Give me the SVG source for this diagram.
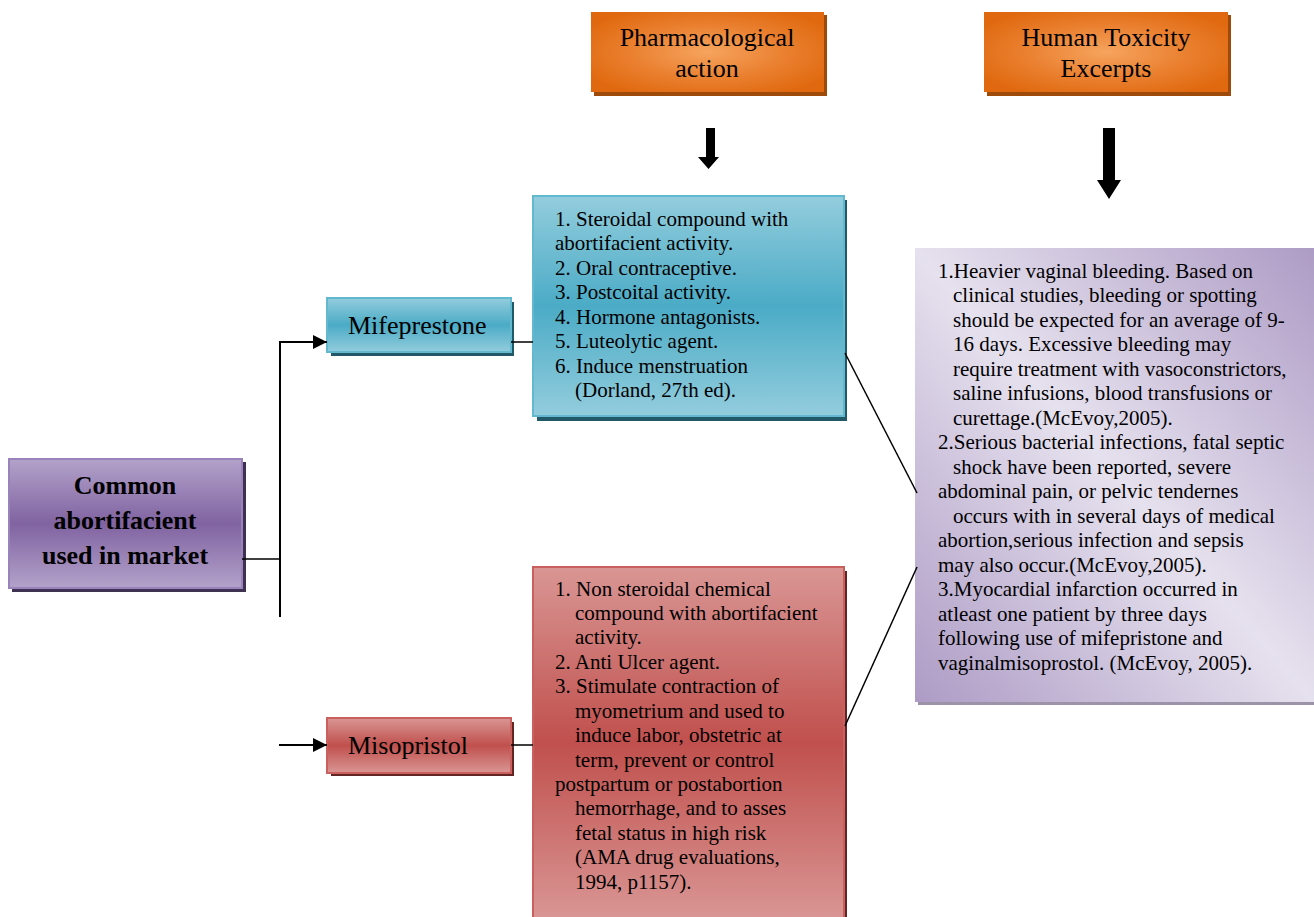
<svg xmlns="http://www.w3.org/2000/svg" width="1314" height="917" viewBox="0 0 1314 917">
<defs>
<radialGradient id="gOrange" cx="0.5" cy="0.5" r="0.6">
<stop offset="0" stop-color="#f6a45e"/>
<stop offset="0.55" stop-color="#ea8030"/>
<stop offset="1" stop-color="#e0690f"/>
</radialGradient>
<linearGradient id="gPurple" x1="0" y1="0" x2="0" y2="1">
<stop offset="0" stop-color="#b3a2ca"/>
<stop offset="0.5" stop-color="#8063a1"/>
<stop offset="1" stop-color="#b3a2ca"/>
</linearGradient>
<linearGradient id="gBlue" x1="0" y1="0" x2="0" y2="1">
<stop offset="0" stop-color="#93cddd"/>
<stop offset="0.5" stop-color="#4babc6"/>
<stop offset="1" stop-color="#93cddd"/>
</linearGradient>
<linearGradient id="gRed" x1="0" y1="0" x2="0" y2="1">
<stop offset="0" stop-color="#d99694"/>
<stop offset="0.5" stop-color="#c0504d"/>
<stop offset="1" stop-color="#d99694"/>
</linearGradient>
<linearGradient id="gLav" x1="1" y1="0" x2="0" y2="1">
<stop offset="0" stop-color="#ad9bc5"/>
<stop offset="0.5" stop-color="#e6e1ee"/>
<stop offset="1" stop-color="#ad9bc5"/>
</linearGradient>
<marker id="ah" viewBox="0 0 14 14" refX="14" refY="7" markerWidth="14" markerHeight="14" markerUnits="userSpaceOnUse" orient="auto">
<path d="M0,0 L14,7 L0,14 Z" fill="#000"/>
</marker>
<style>
text{font-family:"Liberation Serif","Times New Roman",serif;fill:#000}
.hdr{font-size:26px;text-anchor:middle}
.lbl{font-size:26px}
.big{font-size:26px;font-weight:bold;text-anchor:middle}
.lst{font-size:21px}
.ln{stroke:#000;fill:none}
</style>
</defs>

<g id="pharmacological-action">
<rect x="594" y="15" width="233" height="81" fill="#9e4a0a"/>
<rect x="591" y="12" width="233" height="80" fill="url(#gOrange)"/>
<text class="hdr" x="707" y="46">Pharmacological</text>
<text class="hdr" x="707" y="77">action</text>
</g>

<g id="human-toxicity">
<rect x="987" y="15" width="244" height="81" fill="#9e4a0a"/>
<rect x="984" y="12" width="244" height="80" fill="url(#gOrange)"/>
<text class="hdr" x="1106" y="46">Human Toxicity</text>
<text class="hdr" x="1106" y="77">Excerpts</text>
</g>

<g id="common-abortifacient">
<rect x="12" y="462" width="234" height="130" fill="#3f3151"/>
<rect x="9" y="459" width="233" height="129" fill="url(#gPurple)" stroke="#9a82bb" stroke-width="2"/>
<text class="big" x="125" y="494">Common</text>
<text class="big" x="125" y="529">abortifacient</text>
<text class="big" x="125" y="564">used in market</text>
</g>

<g id="mifepristone">
<rect x="331" y="302" width="183" height="54" fill="#215968"/>
<rect x="327" y="298" width="184" height="54" fill="url(#gBlue)" stroke="#62b8ce" stroke-width="2"/>
<text class="lbl" x="348" y="334">Mifeprestone</text>
</g>

<g id="misoprostol">
<rect x="331" y="722" width="183" height="54" fill="#632523"/>
<rect x="327" y="718" width="184" height="55" fill="url(#gRed)" stroke="#c9605d" stroke-width="2"/>
<text class="lbl" x="348" y="754">Misopristol</text>
</g>

<g id="mifepristone-actions">
<rect x="537" y="200" width="310" height="221" fill="#215968"/>
<rect x="533" y="196" width="311" height="220" fill="url(#gBlue)" stroke="#62b8ce" stroke-width="2"/>
<text class="lst" x="555" y="226">1. Steroidal compound with</text>
<text class="lst" x="555" y="250">abortifacient activity.</text>
<text class="lst" x="555" y="275">2. Oral contraceptive.</text>
<text class="lst" x="555" y="299">3. Postcoital activity.</text>
<text class="lst" x="555" y="324">4. Hormone antagonists.</text>
<text class="lst" x="555" y="348">5. Luteolytic agent.</text>
<text class="lst" x="555" y="373">6. Induce menstruation</text>
<text class="lst" x="575" y="397">(Dorland, 27th ed).</text>
</g>

<g id="misoprostol-actions">
<rect x="537" y="571" width="310" height="350" fill="#632523"/>
<rect x="533" y="567" width="311" height="352" fill="url(#gRed)" stroke="#c9605d" stroke-width="2"/>
<text class="lst" x="555" y="596">1. Non steroidal chemical</text>
<text class="lst" x="575" y="620">compound with abortifacient</text>
<text class="lst" x="575" y="644">activity.</text>
<text class="lst" x="555" y="669">2. Anti Ulcer agent.</text>
<text class="lst" x="555" y="693">3. Stimulate contraction of</text>
<text class="lst" x="575" y="718">myometrium and used to</text>
<text class="lst" x="575" y="742">induce labor, obstetric at</text>
<text class="lst" x="575" y="767">term, prevent or control</text>
<text class="lst" x="555" y="791">postpartum or postabortion</text>
<text class="lst" x="575" y="815">hemorrhage, and to asses</text>
<text class="lst" x="575" y="840">fetal status in high risk</text>
<text class="lst" x="575" y="864">(AMA drug evaluations,</text>
<text class="lst" x="575" y="889">1994, p1157).</text>
</g>

<g id="human-toxicity-excerpts">
<rect x="918" y="251" width="400" height="454" fill="#9d93a9"/>
<rect x="915" y="248" width="400" height="454" fill="url(#gLav)"/>
<text class="lst" x="938" y="278">1.Heavier vaginal bleeding. Based on</text>
<text class="lst" x="953" y="302">clinical studies, bleeding or spotting</text>
<text class="lst" x="953" y="327">should be expected for an average of 9-</text>
<text class="lst" x="953" y="351">16 days. Excessive bleeding may</text>
<text class="lst" x="953" y="376">require treatment with vasoconstrictors,</text>
<text class="lst" x="953" y="400">saline infusions, blood transfusions or</text>
<text class="lst" x="953" y="425">curettage.(McEvoy,2005).</text>
<text class="lst" x="938" y="449">2.Serious bacterial infections, fatal septic</text>
<text class="lst" x="953" y="474">shock have been reported, severe</text>
<text class="lst" x="938" y="498">abdominal pain, or pelvic tendernes</text>
<text class="lst" x="953" y="523">occurs with in several days of medical</text>
<text class="lst" x="938" y="547">abortion,serious infection and sepsis</text>
<text class="lst" x="938" y="572">may also occur.(McEvoy,2005).</text>
<text class="lst" x="938" y="596">3.Myocardial infarction occurred in</text>
<text class="lst" x="938" y="621">atleast one patient by three days</text>
<text class="lst" x="938" y="645">following use of mifepristone and</text>
<text class="lst" x="938" y="670">vaginalmisoprostol. (McEvoy, 2005).</text>
</g>

<g id="connectors">
<line class="ln" x1="242" y1="559" x2="280" y2="559" stroke-width="1.5"/>
<line class="ln" x1="280" y1="341" x2="280" y2="617" stroke-width="2"/>
<path class="ln" d="M279,342 H327" stroke-width="2" marker-end="url(#ah)"/>
<path class="ln" d="M279,745 H327" stroke-width="2" marker-end="url(#ah)"/>
<line class="ln" x1="511" y1="342" x2="533" y2="342" stroke-width="1.5"/>
<line class="ln" x1="511" y1="745" x2="533" y2="745" stroke-width="1.5"/>
<line class="ln" x1="845" y1="353" x2="917" y2="493" stroke-width="1.5"/>
<line class="ln" x1="845" y1="726" x2="917" y2="567" stroke-width="1.5"/>
<path d="M706,128 H715 V157 H719 L708.5,169 L698,157 H706 Z" fill="#000"/>
<path d="M1103,128 H1115 V180 H1121 L1109,199 L1097,180 H1103 Z" fill="#000"/>
</g>
</svg>
